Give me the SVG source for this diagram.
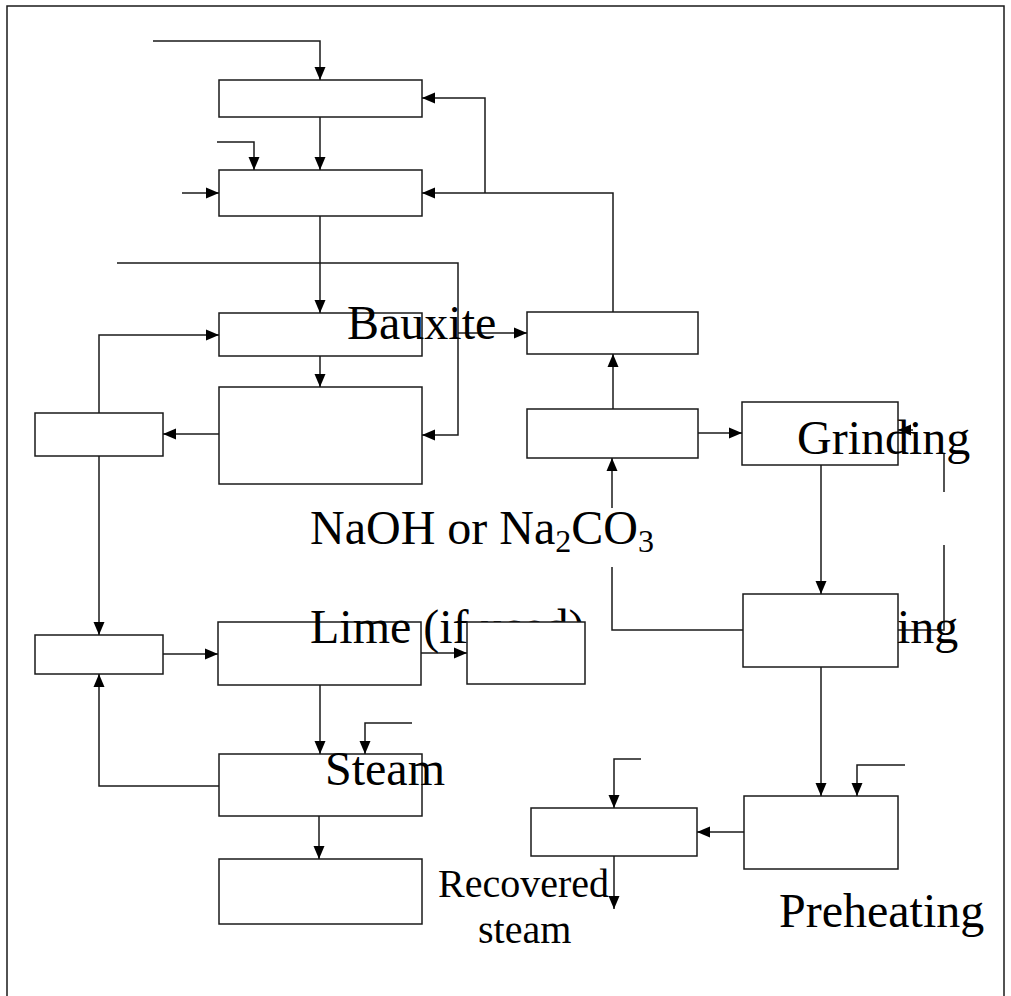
<svg xmlns="http://www.w3.org/2000/svg" width="1011" height="996" viewBox="0 0 1011 996">
<style>
.box{fill:#fff;stroke:#1a1a1a;stroke-width:1.5}
.ln{fill:none;stroke:#1a1a1a;stroke-width:1.5}
.arr{marker-end:url(#ah)}
.t{font-family:"Liberation Serif","Times New Roman",serif;font-size:48px;fill:#000}
.s{font-family:"Liberation Serif","Times New Roman",serif;font-size:40px;fill:#000}
</style>
<defs>
<marker id="ah" viewBox="0 0 13 12" refX="13" refY="6" markerWidth="13" markerHeight="12" markerUnits="userSpaceOnUse" orient="auto">
<path d="M0,0.5 L13,6 L0,11.5 z" fill="#000"/>
</marker>
</defs>
<rect x="7" y="6" width="997" height="1000" fill="#fff" stroke="#1a1a1a" stroke-width="1.5"/>

<g id="boxes-under">
<g id="nA"><rect class="box" x="219" y="80" width="203" height="37"/></g>
<g id="nB"><rect class="box" x="219" y="170" width="203" height="46"/></g>
<g id="nC"><rect class="box" x="219" y="313" width="203" height="43"/></g>
<g id="nD"><rect class="box" x="219" y="387" width="203" height="97"/></g>
<g id="nE"><rect class="box" x="35" y="413" width="128" height="43"/></g>
<g id="nF"><rect class="box" x="35" y="635" width="128" height="39"/></g>
<g id="nG"><rect class="box" x="218" y="622" width="203" height="63"/></g>
<g id="nI"><rect class="box" x="219" y="754" width="203" height="62"/></g>
<g id="nJ"><rect class="box" x="219" y="859" width="203" height="65"/></g>
<g id="nK"><rect class="box" x="527" y="312" width="171" height="42"/></g>
<g id="nL"><rect class="box" x="527" y="409" width="171" height="49"/></g>
<g id="nM"><rect class="box" x="742" y="402" width="156" height="63"/></g>
<g id="nN"><rect class="box" x="743" y="594" width="155" height="73"/></g>
<g id="nO"><rect class="box" x="744" y="796" width="154" height="73"/></g>
<g id="nP"><rect class="box" x="531" y="808" width="166" height="48"/></g>
</g>

<g id="connectors">
<path class="ln arr" d="M153,41 H320 V80"/>
<path class="ln arr" d="M320,117 V170"/>
<path class="ln arr" d="M217,142 H254 V170"/>
<path class="ln arr" d="M182,193 H219"/>
<path class="ln arr" d="M613,312 V193 H422"/>
<path class="ln arr" d="M485,193 V98 H422"/>
<path class="ln arr" d="M320,216 V313"/>
<path class="ln arr" d="M117,263 H458 V435 H422"/>
<path class="ln arr" d="M458,333 H527"/>
<path class="ln arr" d="M320,356 V387"/>
<path class="ln arr" d="M219,434 H163"/>
<path class="ln arr" d="M99,413 V335 H219"/>
<path class="ln arr" d="M99,456 V635"/>
<path class="ln arr" d="M163,654 H218"/>
<path class="ln arr" d="M421,653 H467"/>
<path class="ln arr" d="M320,685 V754"/>
<path class="ln arr" d="M412,723 H365 V754"/>
<path class="ln arr" d="M219,786 H99 V674"/>
<path class="ln arr" d="M319,816 V859"/>
<path class="ln arr" d="M613,409 V354"/>
<path class="ln arr" d="M698,433 H742"/>
<path class="ln" d="M743,630 H612 V567"/>
<path class="ln arr" d="M612,508 V458"/>
<path class="ln arr" d="M821,465 V594"/>
<path class="ln" d="M898,630 H944 V545"/>
<path class="ln" d="M944,492 V453"/>
<path class="ln arr" d="M913,430 H898"/>
<path class="ln arr" d="M821,667 V796"/>
<path class="ln arr" d="M905,765 H857 V796"/>
<path class="ln arr" d="M744,832 H697"/>
<path class="ln arr" d="M641,759 H614 V808"/>
<path class="ln arr" d="M614,856 V909"/>
</g>

<g id="labels">
<text class="t" x="347" y="339">Bauxite</text>
<text class="t" x="310" y="544">NaOH or Na<tspan font-size="32" dy="8">2</tspan><tspan dy="-8">CO</tspan><tspan font-size="32" dy="8">3</tspan></text>
<text class="t" x="310" y="643">Lime (if used)</text>
<text class="t" x="797" y="454">Grinding</text>
<text class="t" x="897" y="643">ing</text>
<text class="t" x="325" y="785">Steam</text>
<text class="t" x="779" y="927">Preheating</text>
<text class="s" x="438" y="897">Recovered</text>
<text class="s" x="478" y="943">steam</text>
</g>

<g id="nH"><rect class="box" x="467" y="622" width="118" height="62"/></g>
</svg>
